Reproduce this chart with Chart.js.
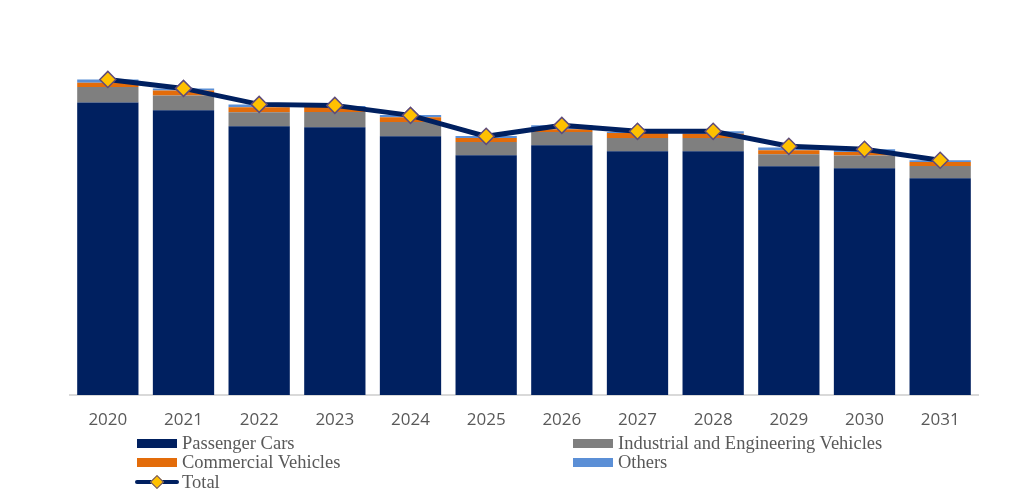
<!DOCTYPE html>
<html>
<head>
<meta charset="utf-8">
<script src="https://cdn.jsdelivr.net/npm/chart.js@4/dist/chart.umd.min.js"></script>
<style>
    body { margin: 0; background: #ffffff; }
    #wrap { position: relative; width: 1013px; height: 502px; }
    #legend { position: absolute; left: 0; top: 0; width: 1013px; height: 502px; pointer-events: none;
        font-family: "Liberation Serif", "Times New Roman", serif; font-size: 18.5px; color: #595959; }
    .item { position: absolute; height: 20px; line-height: 20px; white-space: nowrap; }
    .sw { position: absolute; left: 0; top: 6px; width: 40px; height: 9px; }
    .lbl { position: absolute; left: 45px; top: 0; }
    .ln { position: absolute; left: -2px; top: 8px; width: 44px; height: 4px; background: #002060; border-radius: 2px; }
    .dm { position: absolute; left: 15px; top: 5px; width: 8px; height: 8px; background: #ffc000;
        border: 1px solid #5f4b7a; transform: rotate(45deg); }
</style>
</head>
<body>
<div id="wrap">
    <canvas id="chart" width="1013" height="502"></canvas>
    <div id="legend"></div>
</div>
<script>
var years = ["2020", "2021", "2022", "2023", "2024", "2025", "2026", "2027", "2028", "2029", "2030", "2031"];

var passengerCars = [29.3, 28.5, 26.9, 26.8, 25.9, 24.0, 25.0, 24.4, 24.4, 22.9, 22.7, 21.7];
var industrialVehicles = [1.53, 1.50, 1.40, 1.53, 1.43, 1.33, 1.33, 1.33, 1.33, 1.20, 1.27, 1.23];
var commercialVehicles = [0.44, 0.50, 0.50, 0.50, 0.47, 0.40, 0.27, 0.50, 0.44, 0.40, 0.36, 0.40];
var others = [0.33, 0.20, 0.30, 0.10, 0.23, 0.20, 0.40, 0.10, 0.23, 0.27, 0.27, 0.17];
var totals = [31.6, 30.7, 29.1, 29.0, 28.0, 25.9, 27.0, 26.4, 26.4, 24.9, 24.6, 23.5];

var navy = "#002060";

var ctx = document.getElementById("chart");
var chart = new Chart(ctx, {
    type: "bar",
    data: {
        labels: years,
        datasets: [
            {
                type: "line",
                label: "Total",
                data: totals,
                stack: "total",
                order: 0,
                borderColor: navy,
                borderWidth: 5,
                tension: 0,
                pointStyle: "rectRot",
                pointRadius: 8,
                pointHoverRadius: 8,
                pointBackgroundColor: "#ffc000",
                pointBorderColor: "#5f4b7a",
                pointBorderWidth: 1.5
            },
            { label: "Passenger Cars", data: passengerCars, backgroundColor: navy, stack: "units", order: 1 },
            { label: "Industrial and Engineering Vehicles", data: industrialVehicles, backgroundColor: "#7f7f7f", stack: "units", order: 1 },
            { label: "Commercial Vehicles", data: commercialVehicles, backgroundColor: "#e36c0a", stack: "units", order: 1 },
            { label: "Others", data: others, backgroundColor: "#5b8fd6", stack: "units", order: 1 }
        ]
    },
    options: {
        responsive: false,
        animation: false,
        layout: {
            padding: { left: 70, right: 35, top: 0, bottom: 67 }
        },
        plugins: {
            legend: { display: false },
            tooltip: { enabled: false }
        },
        datasets: {
            bar: { barPercentage: 0.81, categoryPercentage: 1.0 }
        },
        scales: {
            x: {
                stacked: true,
                grid: { display: false, drawTicks: false },
                border: { display: true, color: "#d9d9d9", width: 2 },
                ticks: {
                    padding: 15,
                    color: "#595959",
                    font: { family: "Open Sans", size: 17 }
                },
                afterFit: function(scale) { scale.height = 40; }
            },
            y: {
                display: false,
                stacked: true,
                min: 0,
                max: 38.6
            }
        }
    }
});

//Legend in two columns, built from the datasets
var legendSpots = [
    { idx: 1, x: 137, y: 433 },
    { idx: 2, x: 573, y: 433 },
    { idx: 3, x: 137, y: 452 },
    { idx: 4, x: 573, y: 452 },
    { idx: 0, x: 137, y: 472 }
];
var legendBox = document.getElementById("legend");
legendSpots.forEach(function(spot) {
    var ds = chart.data.datasets[spot.idx];
    var item = document.createElement("div");
    item.className = "item";
    item.style.left = spot.x + "px";
    item.style.top = spot.y + "px";
    if (ds.type === "line") {
        item.innerHTML = "<div class='ln'></div><div class='dm'></div>";
    } else {
        item.innerHTML = "<div class='sw' style='background:" + ds.backgroundColor + "'></div>";
    }
    var lbl = document.createElement("span");
    lbl.className = "lbl";
    lbl.textContent = ds.label;
    item.appendChild(lbl);
    legendBox.appendChild(item);
});
</script>
</body>
</html>
